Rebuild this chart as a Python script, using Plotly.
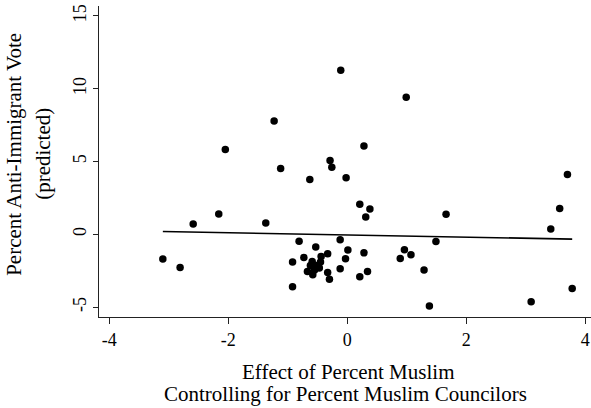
import plotly.graph_objects as go

# data
effect_x = [-3.10, -2.81, -2.59, -2.16, -2.05, -1.37, -1.23, -1.12, -0.92, -0.92,
            -0.81, -0.73, -0.67, -0.63, -0.59, -0.58, -0.53, -0.51, -0.47, -0.44,
            -0.33, -0.33, -0.30, -0.29, -0.26, -0.12, -0.12, -0.11, -0.03, -0.02,
            0.01, 0.21, 0.21, 0.28, 0.28, 0.31, 0.34, 0.38, 0.89, 0.96,
            0.99, 1.07, 1.29, 1.38, 1.49, 1.66, 3.09, 3.42, 3.57, 3.70,
            3.78, -0.62, -0.55, -0.45]
vote_y = [-1.70, -2.28, 0.70, 1.39, 5.82, 0.77, 7.79, 4.52, -1.91, -3.60,
          -0.47, -1.59, -2.55, 3.76, -1.87, -2.78, -0.88, -2.14, -2.32, -1.52,
          -1.34, -2.62, -3.08, 5.07, 4.61, -0.38, -2.37, 11.27, -1.68, 3.88,
          -1.08, 2.07, -2.92, 6.07, -1.27, 1.18, -2.55, 1.73, -1.66, -1.06,
          9.42, -1.41, -2.45, -4.93, -0.49, 1.38, -4.64, 0.36, 1.77, 4.10,
          -3.72, -2.15, -2.45, -1.90]
fit_x = [-3.10, 3.78]
fit_y = [0.19, -0.33]
x_ticks = [-4, -2, 0, 2, 4]
y_ticks = [-5, 0, 5, 10, 15]

FONT = "Liberation Serif, Times New Roman, serif"
AX = "#222222"

fig = go.Figure()
fig.add_trace(go.Scatter(x=effect_x, y=vote_y, mode="markers",
                         marker=dict(size=7.5, color="black"), showlegend=False))
fig.add_trace(go.Scatter(x=fit_x, y=fit_y, mode="lines",
                         line=dict(color="black", width=1.6), showlegend=False))

fig.update_layout(
    width=591, height=408,
    margin=dict(l=99, r=0, t=6, b=91),
    paper_bgcolor="white", plot_bgcolor="white",
    font=dict(family=FONT, color="black", size=18),
    xaxis=dict(range=[-4.173, 4.096], tickvals=x_ticks, ticktext=[str(v) for v in x_ticks],
               automargin=False,
               showgrid=False, zeroline=False, showline=True, linecolor=AX, linewidth=1,
               ticks="outside", ticklen=6, tickcolor=AX, tickfont=dict(size=18)),
    yaxis=dict(range=[-5.68, 15.68], tickvals=y_ticks, ticktext=[str(v) for v in y_ticks],
               automargin=False,
               showgrid=False, zeroline=False, showline=True, linecolor=AX, linewidth=1,
               ticks="outside", ticklen=5, tickcolor=AX, tickangle=-90, tickfont=dict(size=18)),
    annotations=[
        dict(text="Percent Anti-Immigrant Vote", xref="paper", yref="paper", x=-0.1728, y=0.5246,
             textangle=-90, showarrow=False, xanchor="center", yanchor="middle", font=dict(size=21)),
        dict(text="(predicted)", xref="paper", yref="paper", x=-0.1138, y=0.5246,
             textangle=-90, showarrow=False, xanchor="center", yanchor="middle", font=dict(size=21)),
        dict(text="Effect of Percent Muslim", xref="paper", yref="paper", x=0.507, y=-0.178,
             showarrow=False, xanchor="center", yanchor="middle", font=dict(size=21)),
        dict(text="Controlling for Percent Muslim Councilors", xref="paper", yref="paper", x=0.502, y=-0.2485,
             showarrow=False, xanchor="center", yanchor="middle", font=dict(size=21)),
    ],
)
fig.write_html("out.html", config={"displayModeBar": False},
               post_script="document.body.style.margin='0';")
